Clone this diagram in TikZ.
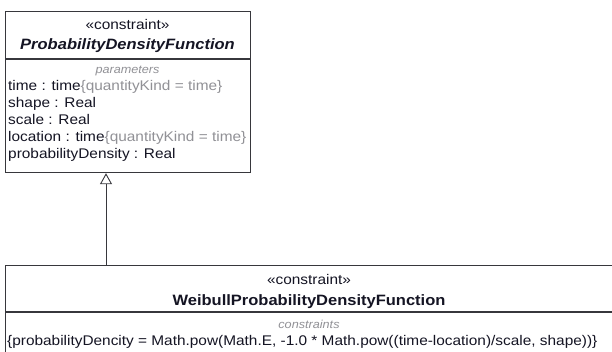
\documentclass[tikz,border=0pt]{standalone}
\usepackage{fontspec}
\setmainfont[FakeStretch=1.1]{Liberation Sans}
\usepackage{xcolor}
\usepackage{tikz}
\usetikzlibrary{arrows.meta,positioning,calc}
\definecolor{umlline}{RGB}{55,55,60}
\definecolor{umltext}{RGB}{20,20,35}
\definecolor{umlgray}{RGB}{145,145,150}
\newcommand{\qkind}{{\color{umlgray}\{quantityKind = time\}}}

\begin{document}
\begin{tikzpicture}[x=1pt,y=-1pt,
  every node/.style={font=\fontsize{14}{17}\selectfont, text=umltext, inner sep=0pt},
  umlbox/.style={draw=umlline, line width=1.2pt, fill=white, anchor=north west},
  partline/.style={draw=umlline, line width=1.2pt},
  stereo/.style={anchor=base},
  clsname/.style={anchor=base, font=\fontsize{15}{17}\selectfont\bfseries},
  compname/.style={anchor=base, font=\fontsize{11.5}{13}\selectfont\itshape, text=umlgray},
  attr/.style={anchor=base west}]
\useasboundingbox (0,0) rectangle (612,352);
\clip (0,0) rectangle (612,352);

\node[umlbox, minimum width=245pt, minimum height=161pt] (pdf) at (5,11) {};
\draw[partline] ([yshift=-48pt]pdf.north west) -- ([yshift=-48pt]pdf.north east);
\node[stereo] (pdfster) at (127.5,30) {«constraint»};
\node[clsname, font=\fontsize{15}{17}\selectfont\bfseries\itshape] (pdfname) at (127.5,50) {ProbabilityDensityFunction};
\node[compname] (pdfparams) at (127.5,74) {parameters};
\node[attr] (ptime) at (8,91) {time : time\qkind};
\node[attr] (pshape) at (8,108) {shape : Real};
\node[attr] (pscale) at (8,125) {scale : Real};
\node[attr] (ploc) at (8,142) {location : time\qkind};
\node[attr] (pdens) at (8,159) {probabilityDensity : Real};

\node[umlbox, minimum width=610pt, minimum height=100pt] (weibull) at (5,265) {};
\draw[partline] ([yshift=-47pt]weibull.north west) -- ([yshift=-47pt]weibull.north east);
\node[stereo] (wster) at (309,284) {«constraint»};
\node[clsname] (wname) at (309,305) {WeibullProbabilityDensityFunction};
\node[compname] (wcons) at (309,328) {constraints};
\node[attr] (wformula) at (7,345) {\{probabilityDencity = Math.pow(Math.E, -1.0 * Math.pow((time-location)/scale, shape))\}};

\draw[-{Triangle[open, length=11pt, width=12pt]}, line width=0.9pt, umlline]
  ([xshift=101pt]weibull.north west) -- ([xshift=101pt]pdf.south west);

\end{tikzpicture}
\end{document}
